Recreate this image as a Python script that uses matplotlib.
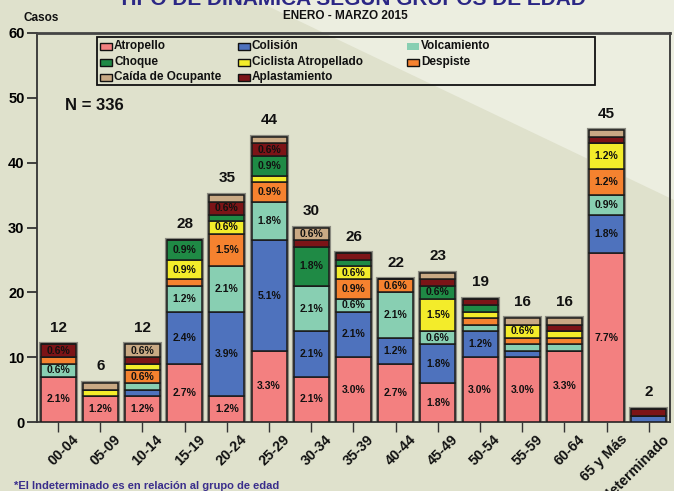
import matplotlib
matplotlib.use("Agg")
import matplotlib.pyplot as plt
from matplotlib.patches import Polygon, Rectangle
import numpy as np

plt.rcParams['font.family'] = ['Liberation Sans', 'DejaVu Sans']
plt.rcParams['font.weight'] = 'bold'

groups = ["00-04", "05-09", "10-14", "15-19", "20-24", "25-29", "30-34", "35-39",
          "40-44", "45-49", "50-54", "55-59", "60-64", "65 y Más", "Indeterminado"]
totals = [12, 6, 12, 28, 35, 44, 30, 26, 22, 23, 19, 16, 16, 45, 2]
N_total = 336

atropello     = [7, 4, 4, 9, 4, 11, 7, 10, 9, 6, 10, 10, 11, 26, 0]
colision      = [0, 0, 1, 8, 13, 17, 7, 7, 4, 6, 4, 1, 0, 6, 1]
volcamiento   = [2, 0, 1, 4, 7, 6, 7, 2, 7, 2, 1, 1, 1, 3, 0]
despiste      = [1, 0, 2, 1, 5, 3, 0, 3, 2, 0, 1, 1, 1, 4, 0]
ciclista      = [0, 1, 1, 3, 2, 1, 0, 2, 0, 5, 1, 2, 1, 4, 0]
choque        = [0, 0, 0, 3, 1, 3, 6, 1, 0, 2, 1, 0, 0, 0, 0]
aplastamiento = [2, 0, 1, 0, 2, 2, 1, 1, 0, 1, 1, 0, 1, 1, 1]
caida         = [0, 1, 2, 0, 1, 1, 2, 0, 0, 1, 0, 1, 1, 1, 0]

series = [
    ("Atropello", atropello, "#F38080"),
    ("Colisión", colision, "#4E72BD"),
    ("Volcamiento", volcamiento, "#88CFB2"),
    ("Despiste", despiste, "#F5822F"),
    ("Ciclista Atropellado", ciclista, "#F3EC2A"),
    ("Choque", choque, "#1F8A45"),
    ("Aplastamiento", aplastamiento, "#7C1417"),
    ("Caída de Ocupante", caida, "#C9A984"),
]
colors = {n: c for n, _, c in series}

W, H = 674, 491
fig = plt.figure(figsize=(W / 100, H / 100), dpi=100)
fig.patch.set_facecolor("#DFE1CC")


def fx(px):
    return px / W


def fy(py):
    return 1 - py / H


# lighter diagonal region in upper right
fig.patches.append(Polygon([(fx(255), 1), (1, 1), (1, fy(200))], closed=True,
                           transform=fig.transFigure, facecolor="#ECEEE0",
                           edgecolor="none", zorder=-10))

ax = fig.add_axes([fx(37), fy(422), fx(670 - 37), (422 - 33) / H])
ax.set_facecolor("none")

x = np.arange(len(groups))
width = 0.83
bottom = np.zeros(len(groups))

# shadow/outline behind each bar
ax.bar(x, totals, width=width, color="none", edgecolor="#8a8a80", linewidth=3.0, zorder=2)

for name, vals, col in series:
    vals = np.array(vals, dtype=float)
    ax.bar(x, vals, width=width, bottom=bottom, color=col, edgecolor="#1a1a1a",
           linewidth=1.1, zorder=3, label=name)
    for i, v in enumerate(vals):
        if v >= 2:
            pct = v / N_total * 100
            ax.text(x[i], bottom[i] + v / 2, f"{pct:.1f}%", ha="center", va="center",
                    fontsize=7.5, fontweight="bold", color="#111111", zorder=5)
    bottom += vals

for i, t in enumerate(totals):
    ax.annotate(str(t), (x[i], bottom[i]), xytext=(0, 12), textcoords="offset points",
                ha="center", va="center", fontsize=11, fontweight="bold", color="#111111")

ax.set_xlim(-0.5, len(groups) - 0.5)
ax.set_ylim(0, 60)
ax.set_yticks(range(0, 61, 10))
ax.set_xticks(x)
ax.set_xticklabels([])
for i, g in enumerate(groups):
    ax.annotate(g, (x[i], 0), xytext=(13, -11), textcoords="offset points",
                ha="right", va="center", rotation=45, rotation_mode="anchor",
                fontsize=10.3, fontweight="bold", color="#111111", annotation_clip=False)
ax.tick_params(axis="y", direction="out", length=7, width=1.3, color="#333333",
               labelsize=10.5, pad=2)
ax.tick_params(axis="x", direction="out", length=7, width=1.0, color="#333333", pad=2)
for lab in ax.get_yticklabels():
    lab.set_fontweight("bold")
for side in ["left", "bottom", "right"]:
    ax.spines[side].set_color("#333333")
    ax.spines[side].set_linewidth(1.3)
ax.spines["top"].set_color("#444444")
ax.spines["top"].set_linewidth(2.0)

# manual legend (drawn in figure pixels)
fig.patches.append(Rectangle((fx(97), fy(85)), fx(595 - 97), (85 - 37) / H,
                             transform=fig.transFigure, facecolor="none",
                             edgecolor="#111111", linewidth=1.3, zorder=6))
legend_layout = [
    ("Atropello", 100, 46), ("Colisión", 238, 46), ("Volcamiento", 407, 46),
    ("Choque", 100, 62), ("Ciclista Atropellado", 238, 62), ("Despiste", 407, 62),
    ("Caída de Ocupante", 100, 77), ("Aplastamiento", 238, 77),
]
for name, px, py in legend_layout:
    ec = "none" if name == "Volcamiento" else "#111111"
    fig.patches.append(Rectangle((fx(px), fy(py + 3.5)), fx(12), 7 / H,
                                 transform=fig.transFigure, facecolor=colors[name],
                                 edgecolor=ec, linewidth=1.0, zorder=7))
    fig.text(fx(px + 14), fy(py), name, ha="left", va="center", fontsize=8.5,
             fontweight="bold", color="#111111", zorder=7)

fig.text(fx(352), fy(5), "TIPO DE DINÁMICA SEGÚN GRUPOS DE EDAD", ha="center",
         va="baseline", fontsize=15, fontweight="bold", color="#2B2785")
fig.text(fx(345), fy(16), "ENERO - MARZO 2015", ha="center", va="center",
         fontsize=8.5, fontweight="bold", color="#111111")
fig.text(fx(23), fy(18), "Casos", ha="left", va="center",
         fontsize=8.5, fontweight="bold", color="#111111")
fig.text(fx(65), fy(106), "N = 336", ha="left", va="center",
         fontsize=12, fontweight="bold", color="#111111")
fig.text(fx(14), fy(486), "*El Indeterminado es en relación al grupo de edad",
         ha="left", va="center", fontsize=8, fontweight="bold", color="#3A2E8C")

fig.savefig("out.png", dpi=100, facecolor=fig.get_facecolor())
